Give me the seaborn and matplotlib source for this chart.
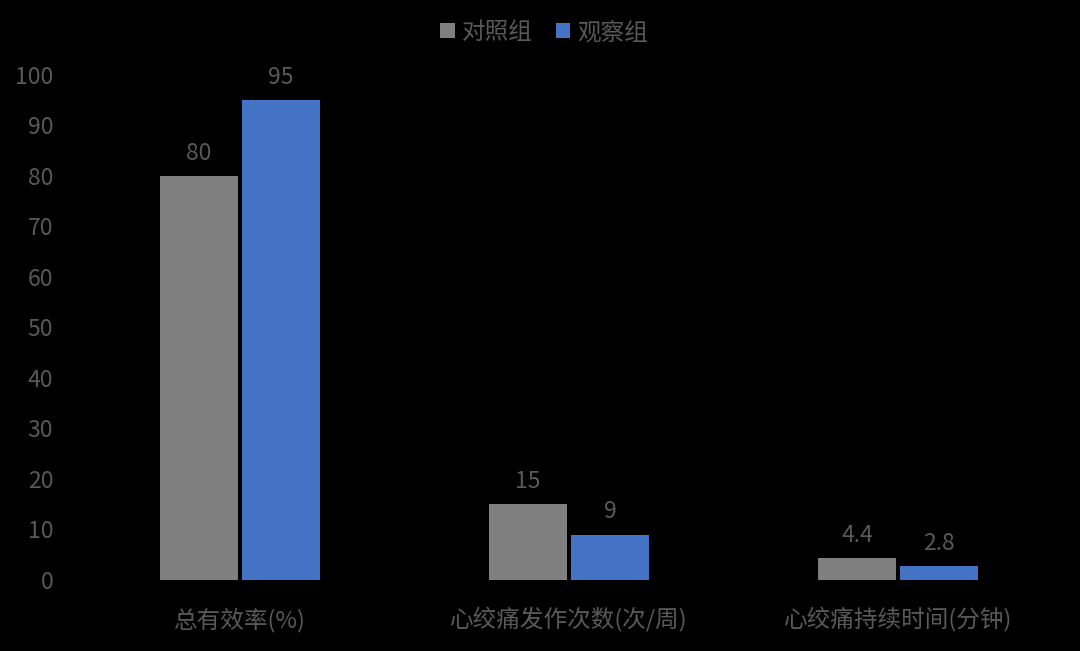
import pandas as pd
import numpy as np
import matplotlib
matplotlib.use('Agg')
import matplotlib.pyplot as plt
import seaborn as sns

# data
categories = ['总有效率(%)', '心绞痛发作次数(次/周)', '心绞痛持续时间(分钟)']
groups = ['对照组', '观察组']
control_vals = [80, 15, 4.4]
observe_vals = [95, 9, 2.8]
value_labels = [['80', '15', '4.4'], ['95', '9', '2.8']]
y_ticks = [0, 10, 20, 30, 40, 50, 60, 70, 80, 90, 100]

palette = {'对照组': '#7f7f7f', '观察组': '#4472c4'}
text_color = '#595959'

df = pd.DataFrame({
    'category': categories * 2,
    'group': [groups[0]] * 3 + [groups[1]] * 3,
    'value': control_vals + observe_vals,
})

sns.set_theme(style='dark')
plt.rcParams['font.family'] = ['Noto Sans CJK SC', 'DejaVu Sans']

fig = plt.figure(figsize=(10.8, 6.51), dpi=100, facecolor='black')
ax = fig.add_axes([0.0699, 0.1091, 0.9139, 0.7757])
ax.set_facecolor('black')

sns.barplot(data=df, x='category', y='value', hue='group', order=categories,
            hue_order=groups, palette=palette, width=0.5, saturation=1,
            ax=ax, legend=True)

# shrink bars a bit so there is a small gap between the pair
for p in ax.patches:
    if p.get_height() == 0 and p.get_width() == 0:
        continue
    c = p.get_x() + p.get_width() / 2
    p.set_width(0.237)
    p.set_x(c - 0.237 / 2)
    p.set_linewidth(0)

for cont, labs in zip(ax.containers, value_labels):
    ax.bar_label(cont, labels=labs, padding=8, color=text_color, fontsize=16.5)

ax.set_xlim(-0.5, 2.5)
ax.set_ylim(0, 100)
ax.set_yticks(y_ticks)
ax.tick_params(axis='y', colors=text_color, labelsize=16.5, length=0, pad=16)
ax.tick_params(axis='x', colors=text_color, labelsize=17, length=0, pad=20)
ax.set_xlabel('')
ax.set_ylabel('')
ax.grid(False)
for s in ax.spines.values():
    s.set_visible(False)

handles, labels = ax.get_legend_handles_labels()
ax.get_legend().remove()
leg = fig.legend(handles, labels, loc='upper center', bbox_to_anchor=(0.504, 1.0),
                 ncol=2, frameon=False, fontsize=17, handlelength=0.6,
                 handleheight=0.6, handletextpad=0.3, columnspacing=1.0)
for h in leg.legend_handles:
    h.set_edgecolor('none')
for t in leg.get_texts():
    t.set_color(text_color)

fig.savefig('out.png', dpi=100, facecolor='black')
